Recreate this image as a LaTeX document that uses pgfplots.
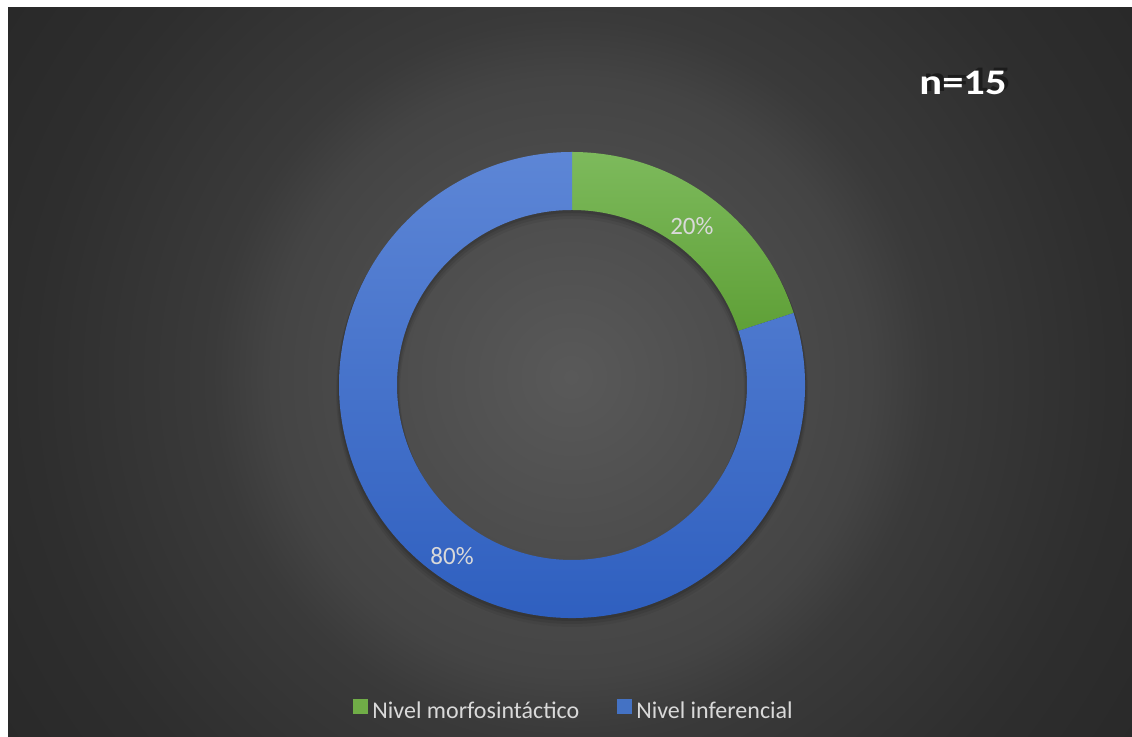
\documentclass[border=0pt]{standalone}
\usepackage{pgfplots}
\pgfplotsset{compat=1.18}
\usepackage{pgfplotstable}
\usepackage{fontspec}
\setmainfont{Carlito}
\definecolor{bg0}{HTML}{595959}
\definecolor{bg1}{HTML}{444444}
\definecolor{bg2}{HTML}{3A3A3A}
\definecolor{bg3}{HTML}{2E2E2E}
\definecolor{bg4}{HTML}{292929}
\definecolor{gtop}{HTML}{7DBA5C}
\definecolor{gbot}{HTML}{5FA037}
\definecolor{btop}{HTML}{5D86D6}
\definecolor{bbot}{HTML}{2C5DBE}
\definecolor{gleg}{HTML}{70AD47}
\definecolor{bleg}{HTML}{4472C4}
\definecolor{txt}{HTML}{D9D9D9}
\definecolor{shad}{HTML}{1C1C1C}
\pgfdeclareradialshading{bgshade}{\pgfpointorigin}{color(0bp)=(bg0); color(11bp)=(bg1); color(13.2bp)=(bg2); color(19.9bp)=(bg3); color(24.7bp)=(bg4); color(50bp)=(bg4)}
\pgfplotstableread{
categoria valor
Morfosintactico 3
Inferencial 12
}\datos
\begin{document}
\begin{tikzpicture}
\pgfplotstablegetelem{0}{valor}\of\datos \let\va\pgfplotsretval
\pgfplotstablegetelem{1}{valor}\of\datos \let\vb\pgfplotsretval
\pgfmathsetmacro\tot{\va+\vb}
\pgfmathsetmacro\pa{100*\va/\tot}
\pgfmathsetmacro\pb{100*\vb/\tot}
\pgfmathsetmacro\aA{90-3.6*\pa}
\pgfmathsetmacro\aB{\aA-3.6*\pb}
\pgfmathsetmacro\mA{(90+\aA)/2}
\pgfmathsetmacro\mB{(\aA+\aB)/2}
\begin{scope}[x=0.5pt,y=0.5pt]
\useasboundingbox (0,0) rectangle (1132,737);
\fill[white] (0,0) rectangle (1132,737);
\begin{scope}
\clip (8,0) rectangle (1132,729);
\fill[bg4] (8,0) rectangle (1132,729);
\shade[shading=bgshade] (571,360) circle (680);
\end{scope}
\end{scope}
\begin{axis}[at={(0,0)}, anchor=south west, scale only axis,
  width=566pt, height=368.5pt,
  xmin=0, xmax=1132, ymin=0, ymax=737,
  hide axis, clip=false,
  /pgf/number format/assume math mode=true,
  legend style={at={(0.508,0.034)}, anchor=center, draw=none, fill=none,
    font=\fontsize{12}{14}\selectfont, text=txt,
    /tikz/every even column/.append style={column sep=17pt}},
  legend columns=2,
  legend image code/.code={\fill[draw=none,#1] (0pt,-1pt) rectangle (7.5pt,6.5pt);},
]
\addlegendimage{fill=gleg}
\addlegendentry{Nivel morfosintáctico}
\addlegendimage{fill=bleg}
\addlegendentry{Nivel inferencial}
% soft shadow
\fill[black, opacity=0.06, even odd rule] (572,346) circle[radius=236] (572,346) circle[radius=172];
\fill[black, opacity=0.08, even odd rule] (572,348) circle[radius=235] (572,348) circle[radius=173];
\fill[black, opacity=0.10, even odd rule] (572,350) circle[radius=234] (572,350) circle[radius=174];
% green segment
\shade[top color=gtop, bottom color=gbot]
  (572,585) arc[start angle=90, end angle=\aA, radius=233]
  -- ({572+175*cos(\aA)},{352+175*sin(\aA)}) arc[start angle=\aA, end angle=90, radius=175] -- cycle;
% blue segment
\shade[top color=btop, bottom color=bbot]
  ({572+233*cos(\aA)},{352+233*sin(\aA)}) arc[start angle=\aA, end angle=\aB, radius=233]
  -- ({572+175*cos(\aB)},{352+175*sin(\aB)}) arc[start angle=\aB, end angle=\aA, radius=175] -- cycle;
\node[text=txt, font=\fontsize{12.5}{14}\selectfont] at ({572+204*cos(\mA)},{346+204*sin(\mA)}) {\pgfmathprintnumber{\pa}\%};
\node[text=txt, font=\fontsize{12.5}{14}\selectfont] at ({572+204*cos(\mB)},{346+204*sin(\mB)}) {\pgfmathprintnumber{\pb}\%};
\node[text=white, xscale=1.18, font=\bfseries\fontsize{18}{20}\selectfont] at (963,656)
  {\makebox[0pt][l]{\hspace{1.7pt}\raisebox{1.5pt}{\textcolor{shad}{n=15}}}n=15};
\end{axis}
\end{tikzpicture}
\end{document}
